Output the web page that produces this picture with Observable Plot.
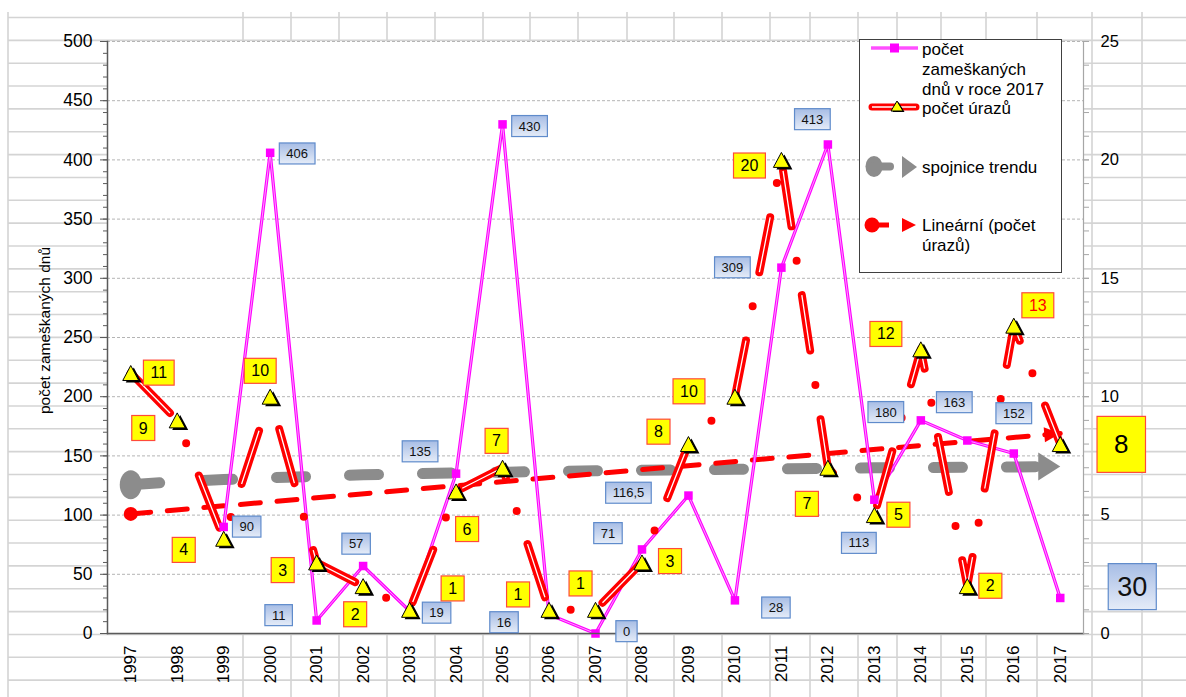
<!DOCTYPE html>
<html><head><meta charset="utf-8">
<script src="https://cdn.jsdelivr.net/npm/d3@7"></script>
<script src="https://cdn.jsdelivr.net/npm/@observablehq/plot@0.6"></script>
<style>
html,body{margin:0;padding:0;background:#fff;}
#wrap{position:relative;width:1186px;height:697px;overflow:hidden;font-family:"Liberation Sans",Arial,sans-serif;}
#wrap > svg, #chart{position:absolute;left:0;top:0;}
</style></head>
<body><div id="wrap"><svg id="sheet" width="1186" height="697"></svg><div id="chart"></div><svg id="legend" width="1186" height="697"></svg></div>
<script>
// ---------------- data ----------------
const years = [1997,1998,1999,2000,2001,2002,2003,2004,2005,2006,2007,2008,2009,2010,2011,2012,2013,2014,2015,2016,2017];
const daysMissed = [null,null,90,406,11,57,19,135,430,16,0,71,116.5,28,309,413,113,180,163,152,30];
const injuries = [11,9,4,10,3,2,1,6,7,1,1,3,8,10,20,7,5,12,2,13,8];
// trend line of missed days at each year
const daysTrend = [125.6,128.3,130.0,131.5,132.8,134.0,134.9,135.7,136.2,136.9,137.4,137.9,138.3,138.7,139.1,139.5,139.9,140.1,140.4,140.7,141.0];
// linear trend of injuries: value at first and at last year
const injuryTrend = [5.05, 8.45];
const leftTicks = [0,50,100,150,200,250,300,350,400,450,500];
const rightTicks = [0,5,10,15,20,25];
const axisTitle = "počet zameškaných dnů";
const legendLabels = [["počet","zameškaných","dnů v roce 2017"],["počet úrazů"],["spojnice trendu"],["Lineární (počet","úrazů)"]];

// ---------------- label placement (layout, px offsets from the point) ----------------
const dayLabelDx = [null,null,23,27,-38,-7,27,-36,27,-45,31,-34,-60,41,-49,-15.5,-15.5,-35,-13,0,72];
const dayLabelDy = [null,null,0,1,-5,-22,2,-22,2,8,-2,-16,-2.5,7.5,0,-25,43.5,-8,-38,-40,-11];
const injLabelDx = [28,-34,-40,-10,-34,-8,43,11,-6,-31,-15,28,-30,-46,-32,-21,24,-35,23,24,61];
const injLabelDy = [0,8,11.5,-25.5,8,28.5,-21,38,-26.5,-15,-26,-1,-12,-5,6,36.5,0,-15,0,-20,1];

// ---------------- spreadsheet grid behind the chart ----------------
const sheetCols = [243,291,339,387,435,483,530,578,627,674,722,770,810,858,897,941,986,1037,1092,1142];
(function(){
  let s = "";
  for (let y = 17.5; y < 697; y += 22.85) s += `<line x1="8" x2="1186" y1="${y}" y2="${y}"/>`;
  s += `<line x1="8" x2="8" y1="12" y2="697"/>`;
  for (const x of sheetCols) s += `<line x1="${x}" x2="${x}" y1="12" y2="697"/>`;
  document.getElementById("sheet").innerHTML = `<g stroke="#d4d4d4" stroke-width="1.6">${s}</g>`;
})();

// ---------------- chart ----------------
const RATIO = leftTicks[leftTicks.length-1] / rightTicks[rightTicks.length-1];
const last = years.length - 1;
const rows = years.map((year,i)=>({i, year, days: daysMissed[i], inj: injuries[i], trend: daysTrend[i]}));
const trendRows = [{year: years[0], v: injuryTrend[0]}, {year: years[last], v: injuryTrend[1]}];
const fmt = v => String(v).replace(".", ",");

const triSymbol = {draw(c){c.moveTo(0,-7.5);c.lineTo(8,7.5);c.lineTo(-8,7.5);c.closePath();}};
const ovalSymbol = {draw(c){const rx=11, ry=14.5, k=0.5523;
  c.moveTo(rx,0); c.bezierCurveTo(rx,ry*k,rx*k,ry,0,ry); c.bezierCurveTo(-rx*k,ry,-rx,ry*k,-rx,0);
  c.bezierCurveTo(-rx,-ry*k,-rx*k,-ry,0,-ry); c.bezierCurveTo(rx*k,-ry,rx,-ry*k,rx,0); c.closePath();}};
const grayArrow = {draw(c){c.moveTo(-22,-14);c.lineTo(0,0);c.lineTo(-22,14);c.closePath();}};
const redArrow = {draw(c){c.moveTo(-16,-7.5);c.lineTo(0,0);c.lineTo(-16,7.5);c.closePath();}};

const dayLabels = rows.filter(d => d.days != null).map(d => Plot.text([d], {
  x: "year", y: "days", text: r => fmt(r.days), dx: dayLabelDx[d.i], dy: dayLabelDy[d.i],
  fontSize: d.i === last ? 27 : 13, fill: "#111", ariaDescription: d.i === last ? "daybig" : "day"
}));
const injLabels = rows.map(d => Plot.text([d], {
  x: "year", y: r => r.inj * RATIO, text: r => String(r.inj), dx: injLabelDx[d.i], dy: injLabelDy[d.i],
  fontSize: d.i === last ? 26 : 16, fill: d.year === 2016 ? "#ff0000" : "#000",
  ariaDescription: d.i === last ? "injbig" : "inj"
}));

const svg = Plot.plot({
  width: 1186, height: 697,
  marginLeft: 107, marginRight: 103, marginTop: 41, marginBottom: 64,
  style: {background: "none", overflow: "visible", fontFamily: "Liberation Sans, Arial, sans-serif"},
  x: {type: "point", domain: years, padding: 0.5, round: false, axis: null},
  y: {domain: [0, 500], axis: null},
  marks: [
    Plot.frame({fill: "#fff", stroke: "none"}),
    Plot.gridY(leftTicks.slice(1), {stroke: "#b4b4b4", strokeOpacity: 1, strokeDasharray: "3,2"}),
    // trend of missed days
    Plot.line(rows, {x: "year", y: "trend", stroke: "#8c8c8c", strokeWidth: 11, strokeLinecap: "round", strokeDasharray: "29,44"}),
    Plot.dot([rows[0]], {x: "year", y: "trend", symbol: ovalSymbol, fill: "#8c8c8c", stroke: "none"}),
    Plot.dot([rows[last]], {x: "year", y: "trend", symbol: grayArrow, fill: "#8c8c8c", stroke: "none"}),
    // linear trend of injuries
    Plot.line(trendRows, {x: "year", y: d => d.v * RATIO, stroke: "#ff0000", strokeWidth: 5, strokeDasharray: "20,16.7"}),
    Plot.dot([trendRows[0]], {x: "year", y: d => d.v * RATIO, r: 7, fill: "#ff0000", stroke: "none"}),
    Plot.dot([trendRows[1]], {x: "year", y: d => d.v * RATIO, symbol: redArrow, rotate: -5, fill: "#ff0000", stroke: "none"}),
    // missed days
    Plot.line(rows, {x: "year", y: "days", stroke: "#ff00ff", strokeWidth: 3.2}),
    Plot.line(rows, {x: "year", y: "days", stroke: "#ff9cff", strokeWidth: 1}),
    // injuries
    Plot.line(rows, {x: "year", y: d => d.inj * RATIO, stroke: "#ff0000", strokeWidth: 8, strokeDasharray: "56,34.8,0,34.8", strokeLinecap: "round", strokeLinejoin: "round"}),
    Plot.line(rows, {x: "year", y: d => d.inj * RATIO, stroke: "#fff", strokeWidth: 1.3, strokeDasharray: "56,34.8,0,34.8", strokeLinecap: "butt", strokeLinejoin: "round"}),
    Plot.dot(rows.filter(d => d.days != null), {x: "year", y: "days", symbol: "square", r: 4.8, fill: "#ff00ff", stroke: "none"}),
    Plot.dot(rows, {x: "year", y: d => d.inj * RATIO, symbol: triSymbol, fill: "#000", stroke: "none", dx: 3, dy: 2}),
    Plot.dot(rows, {x: "year", y: d => d.inj * RATIO, symbol: triSymbol, fill: "#ffff00", stroke: "#000", strokeWidth: 1}),
    // axes
    Plot.frame({anchor: "left", stroke: "#5a5a5a", strokeWidth: 1.5}),
    Plot.frame({anchor: "bottom", stroke: "#5a5a5a", strokeWidth: 1.5}),
    Plot.frame({anchor: "right", stroke: "#a6a6a6", strokeWidth: 1.2}),
    Plot.axisY({anchor: "left", ticks: leftTicks, tickSize: 7, tickPadding: 8, fontSize: 17.5, stroke: "#5a5a5a", fill: "#000", label: null}),
    Plot.axisY({anchor: "left", ticks: d3.range(0, 501, 10), tickSize: 4, tickFormat: () => "", stroke: "#5a5a5a", label: null}),
    Plot.axisY({anchor: "right", ticks: d3.range(0, 501, RATIO), tickSize: 5, tickFormat: () => "", stroke: "#a6a6a6", label: null}),
    Plot.axisY({anchor: "right", ticks: rightTicks.map(v => v * RATIO), tickSize: 5, tickPadding: 12, fontSize: 16.5,
      tickFormat: v => String(v / RATIO), stroke: "#a6a6a6", fill: "#000", label: null}),
    Plot.axisX({anchor: "bottom", tickRotate: -90, tickSize: 0, tickPadding: 12, fontSize: 17, tickFormat: d => String(d), fill: "#000", label: null}),
    Plot.text([axisTitle], {frameAnchor: "left", textAnchor: "middle", dx: -62, dy: -7, rotate: -90, fontSize: 15.5, fill: "#000", text: d => d}),
    ...dayLabels,
    ...injLabels
  ]
});
document.getElementById("chart").appendChild(svg);

// boxes behind data labels
const NS = "http://www.w3.org/2000/svg";
const defs = document.createElementNS(NS, "defs");
defs.innerHTML = `<linearGradient id="blueFill" x1="0" y1="0" x2="0" y2="1"><stop offset="0" stop-color="#a7bde5"/><stop offset="1" stop-color="#e5ecf8"/></linearGradient>`;
svg.insertBefore(defs, svg.firstChild);
function boxify(desc, padX, h, fill, stroke){
  svg.querySelectorAll(`g[aria-description="${desc}"] text`).forEach(t => {
    const b = t.getBBox();
    const w = b.width + 2 * padX;
    const r = document.createElementNS(NS, "rect");
    r.setAttribute("x", b.x + b.width / 2 - w / 2);
    r.setAttribute("y", b.y + b.height / 2 - h / 2);
    r.setAttribute("width", w);
    r.setAttribute("height", h);
    r.setAttribute("fill", fill);
    r.setAttribute("stroke", stroke);
    r.setAttribute("stroke-width", 1.2);
    const tr = t.getAttribute("transform");
    if (tr) r.setAttribute("transform", tr);
    t.parentNode.insertBefore(r, t);
  });
}
boxify("day", 7, 21, "url(#blueFill)", "#5f8bcb");
boxify("daybig", 9, 46, "url(#blueFill)", "#5f8bcb");
boxify("inj", 7, 25, "#ffff00", "#ff4a3a");
boxify("injbig", 17, 56, "#ffff00", "#ff4a3a");

// ---------------- legend ----------------
(function(){
  const L = legendLabels;
  document.getElementById("legend").innerHTML = `
  <rect x="859.5" y="39.5" width="202" height="233" fill="#fff" stroke="#404040"/>
  <line x1="871" x2="918" y1="48" y2="48" stroke="#ff00ff" stroke-width="3.2"/>
  <line x1="871" x2="918" y1="48" y2="48" stroke="#ff9cff" stroke-width="1"/>
  <rect x="890" y="43.5" width="9" height="9" fill="#ff00ff"/>
  <line x1="872" x2="916" y1="107" y2="107" stroke="#ff0000" stroke-width="7" stroke-linecap="round"/>
  <line x1="872" x2="916" y1="107" y2="107" stroke="#fff" stroke-width="1.4"/>
  <path d="M897,101 L903,111 L891,111 Z" fill="#000" transform="translate(1.5,1)"/>
  <path d="M897,101 L903,111 L891,111 Z" fill="#ffff00" stroke="#000" stroke-width="1"/>
  <ellipse cx="874" cy="166.5" rx="8.5" ry="10.5" fill="#8c8c8c"/>
  <line x1="874" x2="890" y1="166.5" y2="166.5" stroke="#8c8c8c" stroke-width="8" stroke-linecap="round"/>
  <path d="M902,156 L917,167 L902,178 Z" fill="#8c8c8c"/>
  <circle cx="872" cy="225" r="7.5" fill="#ff0000"/>
  <line x1="872" x2="889" y1="225" y2="225" stroke="#ff0000" stroke-width="5"/>
  <path d="M902,218 L916,225 L902,232 Z" fill="#ff0000"/>
  <g font-family="Liberation Sans, Arial, sans-serif" font-size="17" fill="#000">
    <text x="922" y="55">${L[0][0]}</text>
    <text x="922" y="75">${L[0][1]}</text>
    <text x="922" y="95">${L[0][2]}</text>
    <text x="922" y="114">${L[1][0]}</text>
    <text x="922" y="173">${L[2][0]}</text>
    <text x="922" y="231">${L[3][0]}</text>
    <text x="922" y="251">${L[3][1]}</text>
  </g>`;
})();
</script>
</body></html>
